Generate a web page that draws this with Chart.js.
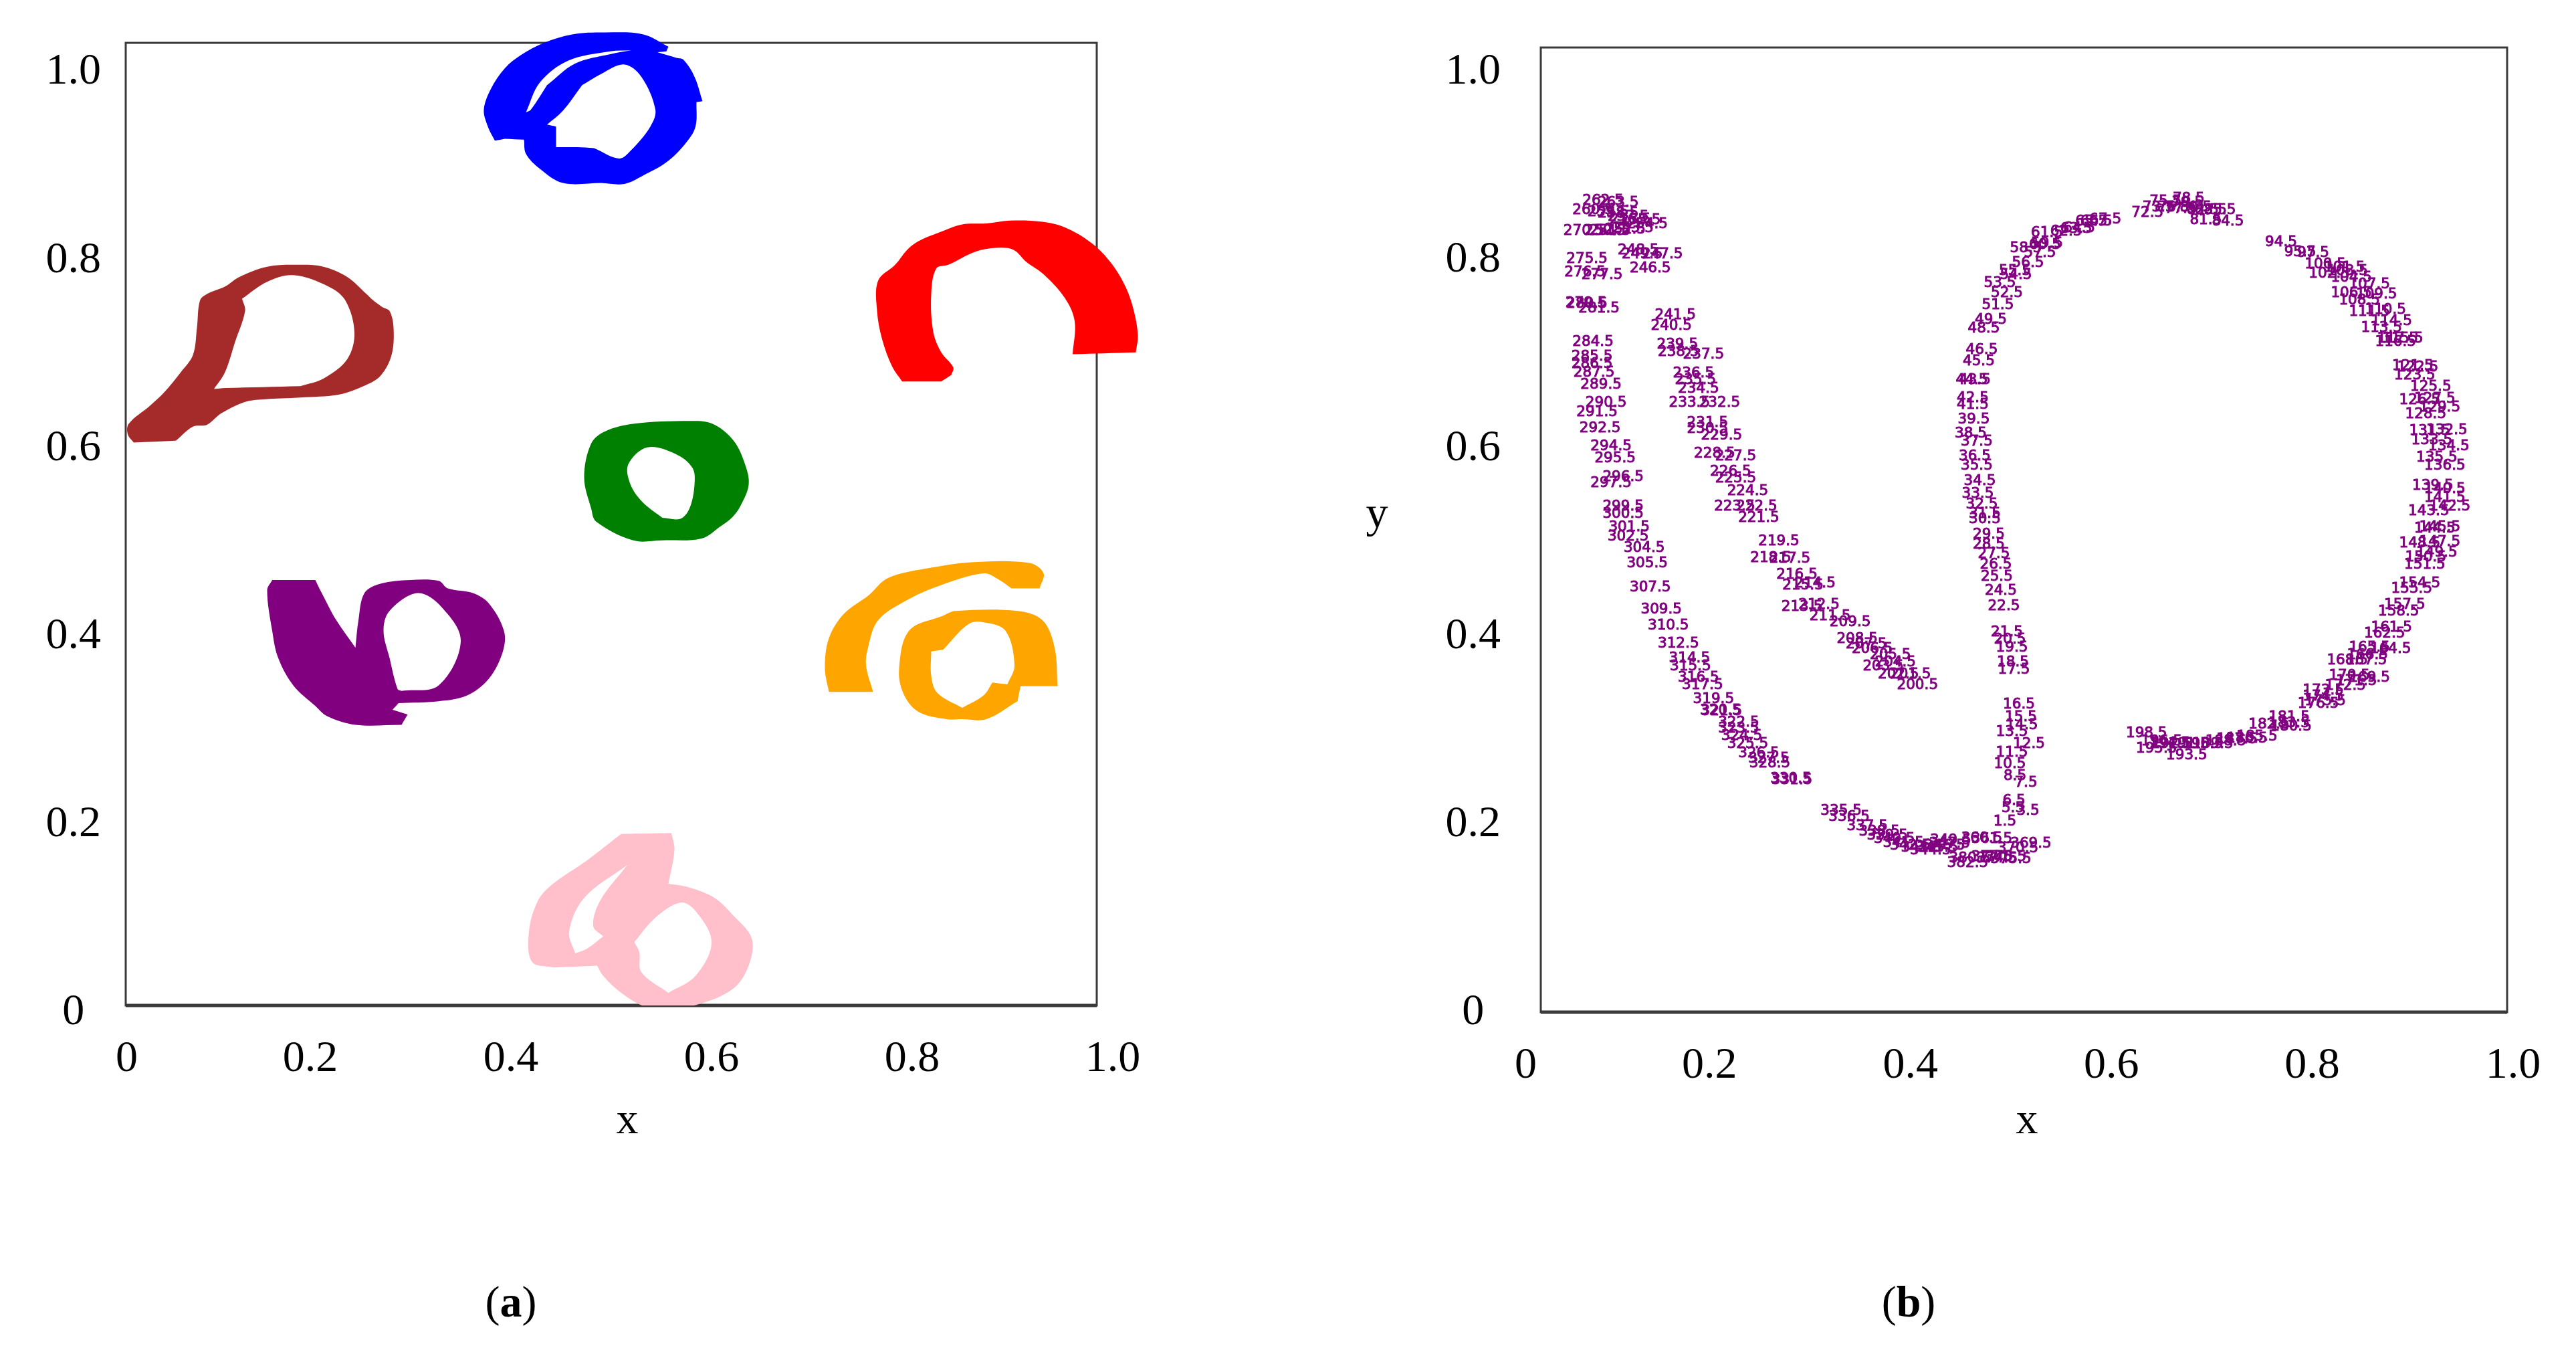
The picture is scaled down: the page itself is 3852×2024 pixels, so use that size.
<!DOCTYPE html>
<html>
<head>
<meta charset="utf-8">
<title>Digit clusters and stroke labels</title>
<script src="https://cdn.jsdelivr.net/npm/chart.js@4/dist/chart.umd.min.js"></script>
<style>
html, body { margin: 0; background: #fff; }
body { position: relative; width: 3852px; height: 2024px; overflow: hidden; }
canvas { position: absolute; top: 0; }
#leftCanvas { left: 0; }
#rightCanvas { left: 1950px; }
.note { position: absolute; font: 66px "Liberation Serif", serif; color: #000; transform: translate(-50%, -50%); line-height: 1; }
</style>
</head>
<body>
<canvas id="leftCanvas" width="1900" height="1750"></canvas>
<canvas id="rightCanvas" width="1902" height="1750"></canvas>
<div class="note" style="left:938px;top:1672px">x</div>
<div class="note" style="left:3031px;top:1672px">x</div>
<div class="note" style="left:2059px;top:766px">y</div>
<div class="note" style="left:764px;top:1946px">(<b>a</b>)</div>
<div class="note" style="left:2854px;top:1946px">(<b>b</b>)</div>
<script>
// tick labels
var tickTexts = ['0', '0.2', '0.4', '0.6', '0.8', '1.0'];
var leftXTicks = [0.017, 0.2, 0.4, 0.6, 0.8, 1.0];
var rightXTicks = [0.017, 0.2, 0.4, 0.6, 0.8, 1.0];
var yTicks = [0, 0.2, 0.4, 0.6, 0.8, 1.0];

// panel a, outline of each point cloud, holes run the other way round
var blueX = [.490, .452, .429, .415, .413, .394, .384, .377, .373, .380, .394, .410, .433, .461, .494, .532, .557, .555, .546, .565, .572, .583, .591, .585, .584, .574, .555, .532, .513, .490,
    .483, .508, .520, .539, .544, .530, .513, .490, .471,
    .436, .464, .499, .520, .499, .457, .429, .415, .420, .436,
    .471, .452, .436, .445, .445, .466, .483];
var blueY = [.878, .878, .893, .909, .924, .925, .923, .938, .956, .978, 1.000, 1.014, 1.027, 1.036, 1.038, 1.036, 1.023, 1.018, 1.017, 1.011, 1.009, .991, .965, .964, .938, .920, .900, .886, .877, .878,
    .915, .904, .913, .938, .956, .991, 1.004, .994, .982,
    .982, 1.005, 1.015, 1.019, 1.018, 1.008, .985, .953, .956, .982,
    .982, .955, .940, .938, .916, .916, .915];

var brownX = [.190, .153, .134, .111, .097, .083, .066, .024, .018, .019, .040, .054, .071, .083, .087, .090, .097, .115, .129, .157, .190, .213, .237, .256, .263, .272, .279, .283, .281, .270, .253, .228, .190,
    .190, .213, .237, .244, .235, .218, .183, .157, .132, .135, .125, .115, .104, .115, .190];
var brownY = [.650, .648, .645, .633, .621, .619, .604, .602, .611, .622, .641, .655, .677, .695, .724, .753, .760, .768, .778, .789, .791, .789, .778, .760, .753, .746, .742, .724, .695, .673, .662, .653, .650,
    .662, .670, .691, .719, .753, .768, .780, .773, .755, .742, .709, .677, .659, .660, .662];

var redX = [.790, .780, .770, .765, .766, .783, .795, .806, .826, .850, .874, .897, .928, .952, .979, .999, 1.013, 1.021, 1.025, 1.023, .960, .962, .952, .931, .914, .901, .884, .863, .836, .824, .819, .821, .829, .841, .839, .829];
var redY = [.667, .683, .712, .742, .774, .791, .807, .816, .825, .834, .835, .838, .837, .831, .814, .792, .767, .742, .716, .698, .696, .731, .756, .781, .794, .807, .809, .805, .791, .787, .760, .720, .698, .682, .674, .667];

var greenX = [.551, .522, .485, .480, .473, .480, .494, .522, .578, .601, .622, .634, .637, .629, .621, .609, .590, .551,
    .551, .569, .578, .583, .581, .564, .536, .517, .519, .531, .551];
var greenY = [.498, .498, .518, .532, .565, .601, .614, .622, .625, .622, .604, .577, .557, .535, .523, .513, .500, .498,
    .522, .521, .532, .557, .575, .590, .597, .579, .558, .539, .522];

var purpleX = [.288, .282, .297, .291, .245, .217, .205, .183, .168, .162, .157, .162, .205, .211, .226, .245, .248, .254, .270, .300, .328, .337, .362, .378, .393, .392, .378, .356, .328, .288,
    .291, .328, .350, .331, .307, .279, .273, .279, .287, .291];
var purpleY = [.325, .318, .313, .302, .302, .311, .322, .344, .373, .402, .445, .456, .456, .443, .413, .384, .413, .442, .452, .456, .455, .447, .442, .431, .402, .380, .351, .333, .327, .325,
    .338, .344, .391, .427, .442, .423, .402, .373, .340, .338];

var orangeArcX = [.717, .713, .717, .732, .757, .776, .819, .862, .917, .931, .927, .899, .887, .871, .825, .794, .766, .756, .754, .761];
var orangeArcY = [.337, .362, .394, .420, .440, .458, .469, .475, .474, .463, .447, .447, .456, .463, .449, .434, .413, .384, .365, .337];
var orangeRingX = [.850, .834, .806, .791, .787, .797, .831, .843, .905, .930, .942, .945, .908, .905, .874, .850,
    .850, .871, .880, .895, .902, .893, .871, .856, .831, .819, .819, .825, .850];
var orangeRingY = [.308, .308, .316, .336, .362, .402, .418, .423, .423, .413, .384, .343, .343, .327, .308, .308,
    .320, .333, .347, .345, .365, .402, .411, .409, .382, .380, .354, .336, .320];

var pinkX = [.557, .535, .510, .492, .486, .442, .421, .418, .427, .442, .476, .510, .560, .563, .557, .578, .603, .621, .640, .637, .621, .584, .557,
    .557, .584, .600, .584, .569, .544, .523,
    .492, .482, .489, .516, .473, .458, .464, .476, .492,
    .523, .528, .530, .557];
var pinkY = [.002, .002, .017, .035, .046, .044, .050, .082, .115, .133, .158, .186, .187, .169, .133, .129, .118, .100, .075, .046, .021, .004, .002,
    .017, .035, .071, .104, .113, .097, .071,
    .077, .088, .115, .153, .118, .082, .059, .064, .077,
    .071, .060, .039, .017];

// panel b, stroke time labels
var stampValues = [
    1.5, 3.5, 5.5, 6.5, 7.5, 8.5, 10.5, 11.5, 12.5, 13.5,
    14.5, 15.5, 16.5, 17.5, 18.5, 19.5, 20.5, 21.5, 22.5, 24.5,
    25.5, 26.5, 27.5, 28.5, 29.5, 30.5, 31.5, 32.5, 33.5, 34.5,
    35.5, 36.5, 37.5, 38.5, 39.5, 41.5, 42.5, 43.5, 44.5, 45.5,
    46.5, 48.5, 49.5, 51.5, 52.5, 53.5, 54.5, 55.5, 56.5, 57.5,
    58.5, 59.5, 60.5, 61.5, 62.5, 63.5, 64.5, 65.5, 66.5, 67.5,
    72.5, 73.5, 75.5, 76.5, 77.5, 78.5, 79.5, 80.5, 81.5, 82.5,
    83.5, 84.5, 85.5, 94.5, 95.5, 97.5, 100.5, 101.5, 102.5, 103.5,
    104.5, 106.5, 107.5, 108.5, 109.5, 110.5, 111.5, 113.5, 114.5, 115.5,
    116.5, 117.5, 121.5, 122.5, 123.5, 125.5, 126.5, 127.5, 128.5, 129.5,
    131.5, 132.5, 133.5, 134.5, 135.5, 136.5, 139.5, 140.5, 141.5, 142.5,
    143.5, 144.5, 145.5, 147.5, 148.5, 149.5, 150.5, 151.5, 154.5, 155.5,
    157.5, 158.5, 161.5, 162.5, 164.5, 165.5, 166.5, 167.5, 168.5, 169.5,
    170.5, 171.5, 172.5, 173.5, 174.5, 175.5, 176.5, 180.5, 181.5, 182.5,
    183.5, 185.5, 186.5, 187.5, 188.5, 189.5, 190.5, 191.5, 192.5, 193.5,
    194.5, 195.5, 196.5, 198.5, 200.5, 201.5, 202.5, 203.5, 204.5, 205.5,
    206.5, 207.5, 208.5, 209.5, 211.5, 212.5, 213.5, 214.5, 215.5, 216.5,
    217.5, 218.5, 219.5, 221.5, 222.5, 223.5, 224.5, 225.5, 226.5, 227.5,
    228.5, 229.5, 230.5, 231.5, 232.5, 233.5, 234.5, 235.5, 236.5, 237.5,
    238.5, 239.5, 240.5, 241.5, 246.5, 247.5, 248.5, 249.5, 250.5, 251.5,
    252.5, 253.5, 254.5, 255.5, 256.5, 257.5, 258.5, 259.5, 260.5, 262.5,
    263.5, 270.5, 275.5, 276.5, 277.5, 279.5, 280.5, 281.5, 284.5, 285.5,
    286.5, 287.5, 289.5, 290.5, 291.5, 292.5, 294.5, 295.5, 296.5, 297.5,
    299.5, 300.5, 301.5, 302.5, 304.5, 305.5, 307.5, 309.5, 310.5, 312.5,
    314.5, 315.5, 316.5, 317.5, 319.5, 320.5, 321.5, 322.5, 323.5, 324.5,
    325.5, 326.5, 327.5, 328.5, 330.5, 331.5, 335.5, 336.5, 337.5, 338.5,
    339.5, 340.5, 341.5, 342.5, 343.5, 344.5, 345.5, 346.5, 347.5, 349.5,
    360.5, 361.5, 369.5, 370.5, 374.5, 375.5, 376.5, 377.5, 380.5, 382.5
];
var stampX = [
    .494, .517, .502, .503, .515, .504, .499, .501, .518, .501,
    .511, .510, .508, .503, .502, .501, .499, .496, .493, .490,
    .486, .485, .483, .478, .478, .474, .474, .471, .467, .469,
    .466, .464, .466, .460, .463, .462, .462, .464, .461, .468,
    .471, .473, .480, .487, .496, .489, .505, .504, .517, .529,
    .515, .536, .534, .536, .555, .565, .568, .580, .585, .594,
    .636, .647, .654, .662, .669, .677, .676, .684, .694, .691,
    .699, .716, .708, .769, .788, .801, .813, .832, .817, .835,
    .839, .839, .857, .847, .864, .873, .857, .869, .879, .890,
    .883, .885, .900, .905, .902, .918, .907, .922, .913, .927,
    .917, .934, .919, .936, .924, .932, .920, .932, .932, .937,
    .916, .922, .927, .927, .907, .924, .913, .912, .907, .899,
    .892, .886, .879, .872, .878, .857, .855, .854, .835, .857,
    .837, .844, .833, .811, .811, .813, .806, .779, .777, .757,
    .777, .745, .735, .725, .714, .701, .691, .677, .660, .675,
    .658, .645, .650, .635, .407, .400, .388, .373, .385, .380,
    .362, .356, .347, .340, .320, .309, .292, .305, .293, .287,
    .280, .261, .269, .249, .247, .225, .238, .226, .221, .226,
    .205, .212, .198, .198, .210, .180, .189, .186, .184, .194,
    .169, .168, .162, .166, .141, .153, .129, .133, .096, .101,
    .116, .124, .138, .131, .121, .119, .109, .099, .084, .094,
    .109, .075, .078, .076, .093, .077, .078, .090, .084, .083,
    .083, .085, .092, .097, .088, .091, .102, .106, .114, .102,
    .114, .114, .120, .119, .135, .138, .141, .152, .159, .169,
    .180, .181, .189, .193, .204, .211, .212, .229, .229, .232,
    .238, .249, .259, .260, .281, .282, .331, .339, .357, .369,
    .377, .384, .393, .400, .411, .420, .427, .434, .439, .440,
    .471, .481, .520, .507, .486, .500, .495, .481, .459, .457
];
var stampY = [
    .199, .210, .213, .221, .240, .247, .260, .272, .281, .294,
    .301, .310, .323, .360, .368, .384, .392, .400, .428, .444,
    .459, .472, .483, .493, .504, .520, .526, .536, .547, .561,
    .577, .587, .603, .611, .626, .642, .649, .668, .668, .688,
    .700, .723, .732, .748, .761, .771, .780, .784, .793, .803,
    .808, .813, .812, .825, .826, .829, .830, .837, .837, .839,
    .846, .852, .858, .852, .850, .861, .857, .852, .838, .849,
    .849, .837, .849, .815, .804, .803, .791, .788, .781, .784,
    .777, .761, .770, .753, .759, .743, .741, .724, .731, .712,
    .709, .712, .683, .682, .673, .661, .647, .648, .632, .639,
    .614, .615, .604, .598, .586, .577, .556, .552, .543, .534,
    .529, .510, .512, .496, .495, .485, .480, .472, .452, .446,
    .429, .422, .405, .399, .382, .384, .376, .370, .370, .352,
    .354, .348, .343, .338, .332, .327, .324, .300, .310, .302,
    .303, .289, .287, .286, .284, .281, .281, .281, .281, .269,
    .282, .276, .284, .293, .344, .355, .355, .364, .368, .376,
    .382, .387, .393, .411, .417, .429, .427, .452, .450, .461,
    .478, .479, .497, .522, .534, .534, .550, .564, .571, .587,
    .590, .609, .616, .623, .644, .644, .659, .668, .675, .695,
    .698, .706, .726, .737, .787, .802, .806, .802, .827, .827,
    .828, .830, .834, .838, .839, .842, .845, .847, .849, .859,
    .857, .827, .797, .783, .780, .750, .749, .744, .709, .693,
    .685, .676, .663, .644, .634, .617, .598, .585, .565, .559,
    .534, .526, .512, .502, .490, .473, .448, .424, .407, .388,
    .372, .364, .352, .344, .329, .317, .316, .304, .298, .290,
    .281, .271, .266, .261, .244, .243, .210, .204, .194, .188,
    .184, .180, .176, .173, .171, .168, .171, .173, .175, .179,
    .181, .180, .175, .170, .160, .159, .161, .161, .160, .155
];

// corners lists the outline vertices that stay sharp: a doubled vertex keeps
// the spline straight there, so the cuts into the holes do not leave slivers
function shape(xs, ys, color, corners) {
    var points = [];
    for (var i = 0; i < xs.length; i++) {
        points.push({x: xs[i], y: ys[i]});
        if (corners.indexOf(i) != -1) {
            points.push({x: xs[i], y: ys[i]});
        }
    }
    return {
        data: points,
        showLine: true,
        fill: 'shape',
        pointRadius: 0,
        borderWidth: 0,
        borderColor: color,
        backgroundColor: color,
        tension: 0.35,
        capBezierPoints: false,
        clip: false
    };
}

var leftShapes = [
    shape(blueX, blueY, '#0000ff', [0, 4, 5, 6, 16, 17, 18, 19, 22, 23, 29, 30, 38, 39, 42, 46, 48, 49, 51, 52, 53, 55]),
    shape(brownX, brownY, '#a52a2a', [0, 6, 7, 32, 33, 41, 45, 46, 47]),
    shape(redX, redY, '#ff0000', [0, 19, 20, 34, 35]),
    shape(greenX, greenY, '#008000', [0, 17, 18, 28]),
    shape(purpleX, purpleY, '#800080', [0, 1, 2, 3, 11, 12, 15, 29, 30, 39]),
    shape(orangeArcX, orangeArcY, '#ffa500', [0, 10, 11, 19]),
    shape(orangeRingX, orangeRingY, '#ffa500', [0, 11, 12, 13, 15, 16, 18, 19, 24, 25, 28]),
    shape(pinkX, pinkY, '#ffc0cb', [0, 4, 5, 11, 12, 14, 22, 23, 29, 30, 33, 36, 38, 39, 42])
];

var stampPoints = [];
for (var s = 0; s < stampValues.length; s++) {
    stampPoints.push({x: stampX[s], y: stampY[s]});
}

// panel a has marks running over its frame, so the chart area is wider than the frame
function framePlugin(xMin, xMax, yMin, yMax) {
    return {
        id: 'framePlugin',
        beforeDatasetsDraw: function(chart) {
            var x = chart.scales.x;
            var y = chart.scales.y;
            var ctx = chart.ctx;
            var left = x.getPixelForValue(xMin);
            var right = x.getPixelForValue(xMax);
            var top = y.getPixelForValue(yMax);
            var bottom = y.getPixelForValue(yMin);
            ctx.save();
            ctx.strokeStyle = '#3a3a3a';
            ctx.lineWidth = 3;
            ctx.strokeRect(left, top, right - left, bottom - top);
            ctx.lineWidth = 5;
            ctx.beginPath();
            ctx.moveTo(left, bottom);
            ctx.lineTo(right, bottom);
            ctx.stroke();
            ctx.restore();
        }
    };
}

var stampPlugin = {
    id: 'stampPlugin',
    afterDatasetsDraw: function(chart) {
        var ctx = chart.ctx;
        ctx.save();
        ctx.font = '21.5px "DejaVu Sans"';
        ctx.fillStyle = '#800080';
        ctx.strokeStyle = '#800080';
        ctx.lineWidth = 1;
        ctx.textAlign = 'center';
        ctx.textBaseline = 'middle';
        for (var i = 0; i < stampValues.length; i++) {
            var px = chart.scales.x.getPixelForValue(stampX[i]);
            var py = chart.scales.y.getPixelForValue(stampY[i]);
            ctx.fillText(String(stampValues[i]), px, py);
            ctx.strokeText(String(stampValues[i]), px, py);
        }
        ctx.restore();
    }
};

function axisOptions(min, max, tickValues, isY, size, labelGap) {
    return {
        type: 'linear',
        bounds: 'data',
        min: min,
        max: max,
        grid: {display: false, drawTicks: false},
        border: {display: false},
        afterBuildTicks: function(axis) {
            axis.ticks = tickValues.map(function(v) { return {value: v}; });
        },
        afterFit: function(axis) {
            if (isY) {
                axis.width = size;
            } else {
                axis.height = size;
            }
            axis.paddingLeft = 0;
            axis.paddingRight = 0;
            axis.paddingTop = 0;
            axis.paddingBottom = 0;
        },
        ticks: {
            autoSkip: false,
            maxRotation: 0,
            padding: labelGap,
            labelOffset: isY ? 6 : 0,
            crossAlign: isY ? 'center' : 'near',
            font: {family: '"Liberation Serif"', size: 66},
            color: '#000',
            callback: function(value, index) { return tickTexts[index]; }
        }
    };
}

function baseOptions(padding, xAxis, yAxis) {
    return {
        responsive: false,
        animation: false,
        layout: {padding: padding},
        plugins: {legend: {display: false}, tooltip: {enabled: false}},
        scales: {x: xAxis, y: yAxis}
    };
}

new Chart(document.getElementById('leftCanvas').getContext('2d'), {
    type: 'scatter',
    data: {datasets: leftShapes},
    options: baseOptions(
        {left: 0, top: 40, right: 170, bottom: 47},
        axisOptions(0.016, 1.044, leftXTicks, false, 200, 41),
        axisOptions(0.0036, 1.0441, yTicks, true, 188, 37)
    ),
    plugins: [framePlugin(0.016, 0.984, 0.0036, 1.027)]
});

new Chart(document.getElementById('rightCanvas').getContext('2d'), {
    type: 'scatter',
    data: {datasets: [{data: stampPoints, pointRadius: 0, borderColor: '#800080', backgroundColor: '#800080'}]},
    options: baseOptions(
        {left: 0, top: 71, right: 103, bottom: 37},
        axisOptions(0.032, 0.994, rightXTicks, false, 200, 41),
        axisOptions(-0.0036, 1.022, yTicks, true, 354, 60)
    ),
    plugins: [framePlugin(0.032, 0.994, -0.0036, 1.022), stampPlugin]
});
</script>
</body>
</html>
